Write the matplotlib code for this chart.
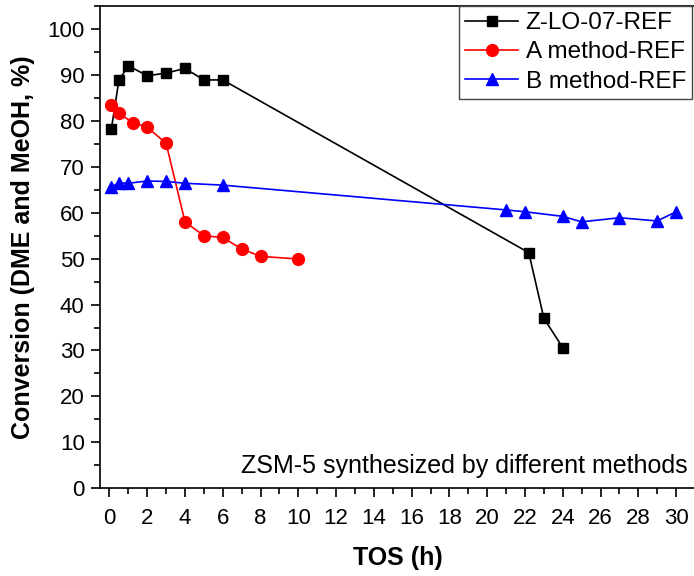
import matplotlib.pyplot as plt
from matplotlib.ticker import MultipleLocator

plt.rcParams['font.family'] = ['Liberation Sans', 'DejaVu Sans']

# Z-LO-07-REF
z_tos = [0.1, 0.5, 1, 2, 3, 4, 5, 6, 22.2, 23, 24]
z_conv = [78.2, 88.8, 92.0, 89.8, 90.4, 91.4, 88.9, 88.9, 51.3, 37.0, 30.6]

# A method-REF
a_tos = [0.1, 0.5, 1.25, 2, 3, 4, 5, 6, 7, 8, 10]
a_conv = [83.5, 81.6, 79.6, 78.6, 75.1, 58.0, 55.0, 54.6, 52.1, 50.5, 49.9]

# B method-REF
b_tos = [0.1, 0.5, 1, 2, 3, 4, 6, 21, 22, 24, 25, 27, 29, 30]
b_conv = [65.6, 66.5, 66.4, 66.9, 66.8, 66.4, 66.0, 60.6, 60.2, 59.2, 58.0, 58.9, 58.2, 60.2]

fig = plt.figure(figsize=(6.94, 5.76), dpi=100)
ax = fig.add_axes([100 / 694, 0.1523, 595 / 694, 0.8373])

ax.plot(z_tos, z_conv, color='black', marker='s', markersize=7.5, lw=1.2, label='Z-LO-07-REF')
ax.plot(a_tos, a_conv, color='red', marker='o', markersize=8.5, lw=1.2, label='A method-REF')
ax.plot(b_tos, b_conv, color='blue', marker='^', markersize=9, lw=1.2, label='B method-REF')

ax.set_xlim(-0.5, 31)
ax.set_ylim(0, 105)
ax.xaxis.set_major_locator(MultipleLocator(2))
ax.xaxis.set_minor_locator(MultipleLocator(1))
ax.yaxis.set_major_locator(MultipleLocator(10))
ax.yaxis.set_minor_locator(MultipleLocator(5))
ax.tick_params(which='major', direction='out', length=6.5, width=1.2, labelsize=16)
ax.tick_params(which='minor', direction='out', length=4, width=1.2)
ax.tick_params(axis='y', which='major', pad=4.5)
ax.tick_params(axis='x', which='major', pad=8)
for s in ax.spines.values():
    s.set_linewidth(1.2)

ax.set_xlabel('TOS (h)', fontsize=18, fontweight='bold', labelpad=12)
ax.set_ylabel('Conversion (DME and MeOH, %)', fontsize=18, fontweight='bold', labelpad=9)

ax.text(30.6, 2.2, 'ZSM-5 synthesized by different methods', fontsize=18, ha='right', va='bottom')

leg = ax.legend(loc='upper right', bbox_to_anchor=(592 / 595, 1.0), fontsize=17.5,
                fancybox=False, edgecolor='#444444', framealpha=1, borderaxespad=0,
                handlelength=2.2, handletextpad=0.3, labelspacing=0.3, borderpad=0.25)
leg.get_frame().set_linewidth(1.0)

fig.savefig('out.png', dpi=100)
